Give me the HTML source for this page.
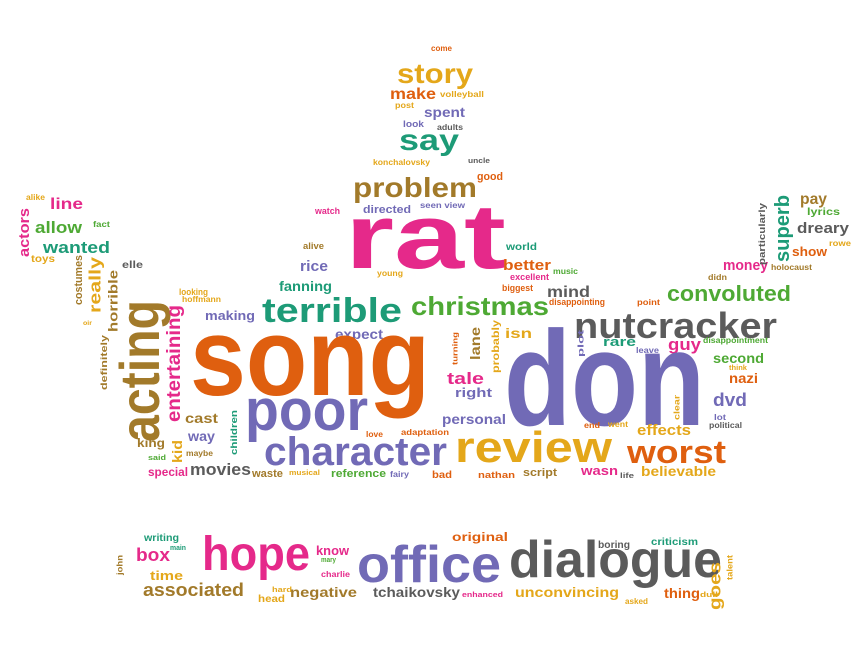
<!DOCTYPE html>
<html><head><meta charset="utf-8"><style>
html,body{margin:0;padding:0;background:#fff;}
svg{display:block;}
text{font-family:"Liberation Sans",sans-serif;font-weight:bold;}
</style></head><body>
<svg id="cloud" width="864" height="648" viewBox="0 0 864 648" xmlns="http://www.w3.org/2000/svg"></svg>
<script>
var C={pk:'#e5298a',or:'#df5f0f',pu:'#716ab6',gr:'#4ea934',te:'#1d9b77',go:'#e4a71a',br:'#a27a2a',gy:'#5b5b5b'};
// [word, x, y, width, fontSize, color, vertical]
var words=[
['come',431,51,21,8,'or',0],['story',397,83,76,28,'go',0],['make',390,99,46,16,'or',0],['volleyball',440,97,44,8,'go',0],
['post',395,108,19,8,'go',0],['spent',424,117,41,14,'pu',0],['look',403,127,21,9,'pu',0],['adults',437,130,26,8,'gy',0],
['say',399,150,60,30,'te',0],['konchalovsky',373,165,57,8,'go',0],['uncle',468,163,22,7,'gy',0],['good',477,180,26,11,'or',0],
['problem',353,197,124,28,'br',0],['directed',363,213,48,11,'pu',0],['seen view',420,208,45,8,'pu',0],
['rat',345,268,161,92,'pk',0],['watch',315,214,25,9,'pk',0],['alive',303,249,21,9,'br',0],['rice',300,271,28,15,'pu',0],
['young',377,276,26,8,'go',0],['world',506,250,31,10,'te',0],['better',503,270,48,15,'or',0],['excellent',510,280,39,9,'pk',0],
['music',553,274,25,8,'gr',0],['biggest',502,291,31,9,'or',0],['mind',547,297,43,16,'gy',0],['disappointing',549,305,56,9,'or',0],
['christmas',411,315,138,26,'gr',0],['fanning',279,291,53,14,'te',0],['terrible',262,322,140,34,'te',0],['making',205,320,50,13,'pu',0],
['looking',179,295,29,9,'go',0],['hoffmann',182,302,39,8,'go',0],['elle',122,268,21,10,'gy',0],['expect',335,339,48,14,'pu',0],
['isn',505,338,27,14,'go',0],['nutcracker',574,338,203,36,'gy',0],['convoluted',667,301,124,22,'gr',0],['point',637,305,23,8,'or',0],
['didn',708,280,19,8,'br',0],['money',723,270,45,15,'pk',0],['holocaust',771,270,41,8,'br',0],
['superb',793,262,67,20,'te',1],['particularly',767,265,62,9,'gy',1],
['pay',800,204,27,16,'br',0],['lyrics',807,215,33,10,'gr',0],['dreary',797,233,52,15,'gy',0],['rowe',829,246,22,8,'go',0],
['show',792,256,35,13,'or',0],['rare',603,346,33,13,'te',0],['leave',636,353,23,8,'pu',0],['guy',668,350,33,17,'pk',0],
['disappointment',703,343,65,8,'gr',0],['second',713,363,51,14,'gr',0],['think',729,370,18,7,'go',0],['nazi',729,383,29,14,'or',0],
['dvd',713,406,34,18,'pu',0],['lot',714,420,12,8,'pu',0],['political',709,428,33,8,'gy',0],
['plot',585,357,27,8,'pu',1],['probably',501,373,53,10,'go',1],['lane',483,360,33,14,'br',1],['turning',459,365,33,7,'or',1],
['don',504,425,201,135,'pu',0],['tale',447,384,37,17,'pk',0],['right',455,397,37,13,'pu',0],['personal',442,424,64,14,'pu',0],
['clear',681,420,25,8,'go',1],['end',584,428,16,8,'or',0],['went',608,427,20,8,'go',0],['effects',637,435,54,15,'go',0],
['worst',627,463,99,32,'or',0],['believable',641,476,75,14,'go',0],['wasn',581,475,37,13,'pk',0],['life',620,478,14,7,'gy',0],
['script',523,476,34,11,'br',0],['nathan',478,478,37,9,'or',0],['bad',432,478,20,10,'or',0],['review',455,462,157,44,'go',0],
['adaptation',401,435,48,8,'or',0],['love',366,437,17,8,'or',0],['character',264,465,183,40,'pu',0],['poor',245,430,123,58,'pu',0],
['song',190,395,240,110,'or',0],['acting',170,442,142,56,'br',1],['entertaining',184,422,117,19,'pk',1],
['definitely',109,390,55,9,'br',1],['horrible',120,332,62,13,'br',1],['really',104,313,56,17,'go',1],['costumes',84,305,50,11,'br',1],
['actors',32,257,49,15,'pk',1],['alike',26,200,19,8,'go',0],['line',50,209,33,16,'pk',0],['allow',35,233,47,17,'gr',0],
['fact',93,227,17,8,'gr',0],['wanted',43,253,67,17,'te',0],['toys',31,262,24,10,'go',0],['oir',83,325,9,6,'go',0],
['cast',185,423,33,14,'br',0],['king',137,447,28,12,'br',0],['kid',185,463,23,14,'go',1],['way',188,441,27,14,'pu',0],
['maybe',186,456,27,8,'br',0],['said',148,460,18,7,'gr',0],['children',239,455,45,9,'te',1],['special',148,476,40,12,'pk',0],
['movies',190,475,61,17,'gy',0],['waste',252,477,31,11,'br',0],['musical',289,475,31,7,'go',0],['reference',331,477,55,11,'gr',0],
['fairy',390,477,19,8,'pu',0],
['john',124,575,20,8,'br',1],['writing',144,541,35,10,'te',0],['main',170,550,16,7,'te',0],['box',136,561,34,18,'pk',0],
['time',150,580,33,13,'go',0],['associated',143,596,101,18,'br',0],['hope',202,570,108,48,'pk',0],['hard',272,592,20,7,'go',0],
['head',258,602,27,10,'go',0],['negative',290,597,67,14,'br',0],['know',316,555,33,13,'pk',0],['mary',321,562,15,7,'gr',0],
['charlie',321,577,29,8,'pk',0],['office',357,582,144,52,'pu',0],['original',452,541,56,12,'or',0],['tchaikovsky',373,597,87,14,'gy',0],
['enhanced',462,597,41,7,'pk',0],['dialogue',509,577,213,52,'gy',0],['boring',598,548,32,10,'gy',0],['criticism',651,545,47,10,'te',0],
['unconvincing',515,597,104,14,'go',0],['asked',625,604,23,8,'go',0],['thing',664,598,36,14,'or',0],['dull',700,597,18,7,'go',0],
['goes',724,610,48,17,'go',1],['talent',734,580,25,8,'go',1]
];
var svg=document.getElementById('cloud');
var NS='http://www.w3.org/2000/svg';
words.forEach(function(w){
  var t=document.createElementNS(NS,'text');
  
  
  t.textContent=w[0];
  t.setAttribute('font-size',w[4]);
  t.setAttribute('fill',C[w[5]]);
  t.setAttribute('textLength',w[3]);
  t.setAttribute('lengthAdjust','spacingAndGlyphs');
  if(w[6]){
    t.setAttribute('x',0);t.setAttribute('y',0);
    t.setAttribute('transform','translate('+(w[1]-0.2*w[4])+','+w[2]+') rotate(-90)');
  }else{
    t.setAttribute('x',w[1]);t.setAttribute('y',w[2]);
  }
  svg.appendChild(t);
});
</script>
</body></html>
